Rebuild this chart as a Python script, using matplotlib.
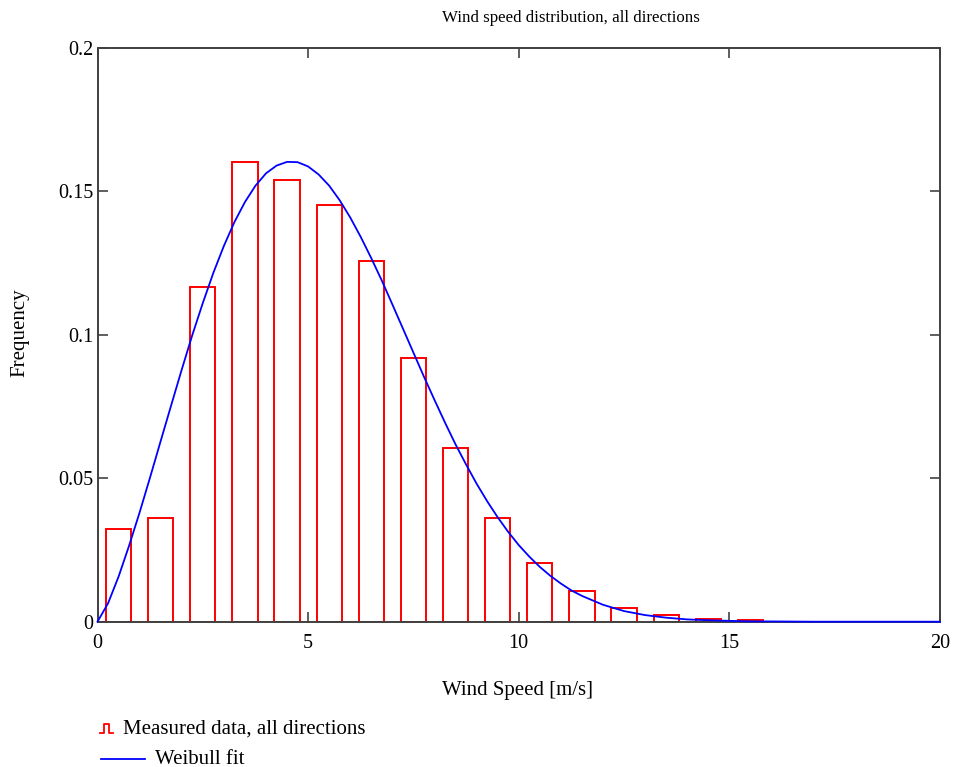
import numpy as np
import matplotlib
matplotlib.use('Agg')
import matplotlib.pyplot as plt
from matplotlib.lines import Line2D

plt.rcParams['font.family'] = ['Liberation Serif', 'DejaVu Serif']

# --- measured histogram (bin start, relative frequency) ---
bin_start = [0, 1, 2, 3, 4, 5, 6, 7, 8, 9, 10, 11, 12, 13, 14, 15]
freq = [0.0323, 0.0361, 0.1167, 0.1602, 0.1539, 0.1451, 0.1258, 0.0920,
        0.0606, 0.0362, 0.0206, 0.0106, 0.0048, 0.0023, 0.0010, 0.0005]

# --- Weibull fit curve ---
fit_x = [0, 0.25, 0.5, 0.75, 1, 1.25, 1.5, 1.75, 2, 2.25, 2.5, 2.75, 3,
         3.25, 3.5, 3.75, 4, 4.25, 4.5, 4.75, 5, 5.25, 5.5, 5.75, 6, 6.25,
         6.5, 6.75, 7, 7.25, 7.5, 7.75, 8, 8.25, 8.5, 8.75, 9, 9.25, 9.5,
         9.75, 10, 10.25, 10.5, 10.75, 11, 11.25, 11.5, 12, 12.5, 13, 13.5,
         14, 14.5, 15, 15.5, 16, 17, 18, 19, 20]
fit_y = [0.0, 0.0064, 0.0157, 0.0265, 0.0381, 0.0504, 0.0630, 0.0755,
         0.0879, 0.0999, 0.1111, 0.1216, 0.1310, 0.1393, 0.1463, 0.1520,
         0.1563, 0.1590, 0.1603, 0.1602, 0.1587, 0.1559, 0.1520, 0.1469,
         0.1409, 0.1341, 0.1267, 0.1189, 0.1106, 0.1022, 0.0938, 0.0854,
         0.0773, 0.0694, 0.0618, 0.0548, 0.0481, 0.0420, 0.0364, 0.0313,
         0.0267, 0.0227, 0.0191, 0.0160, 0.0133, 0.0109, 0.0090, 0.0059,
         0.0037, 0.0023, 0.0014, 0.0008, 0.0005, 0.0003, 0.0001, 0.0001,
         0.0, 0.0, 0.0, 0.0]

x_ticks = [0, 5, 10, 15, 20]
y_ticks = [0, 0.05, 0.1, 0.15, 0.2]
y_labels = ['0', '0.05', '0.1', '0.15', '0.2']

W, H = 958, 767
fig = plt.figure(figsize=(W / 100, H / 100), dpi=100)
ax = fig.add_axes([97.5 / W, 1 - 621.7 / H, (940 - 97.5) / W, (621.7 - 48) / H])

bar_w = 0.6
ax.bar(np.array(bin_start) + 0.5, freq, width=bar_w, fill=False,
       edgecolor='#ff0000', linewidth=1.4, zorder=2)
ax.plot(fit_x, fit_y, color='#0000ff', linewidth=1.3, zorder=3, clip_on=False)

ax.set_xlim(0, 20)
ax.set_ylim(0, 0.2)
ax.set_xticks(x_ticks)
ax.set_yticks(y_ticks)
ax.set_yticklabels(y_labels)
ax.tick_params(direction='in', length=7, width=1.1, color='#333333',
               labelsize=14.5, top=True, right=True)
ax.tick_params(axis='x', pad=9)
ax.tick_params(axis='y', pad=3)
for sp in ax.spines.values():
    sp.set_color('#404040')
    sp.set_linewidth(1.4)

fig.text(570.5 / W, 1 - 18 / H, 'Wind speed distribution, all directions',
         ha='center', va='center', fontsize=12.2)
fig.text(517 / W, 1 - 690 / H, 'Wind Speed [m/s]', ha='center', va='center',
         fontsize=15)
fig.text(20 / W, 1 - 333 / H, 'Frequency', ha='center', va='center',
         rotation=90, fontsize=15)

# legend below the plot, Mathcad style
def px(x, y):
    return x / W, 1 - y / H

bx, by = zip(*[px(100, 733), px(104, 733), px(104, 724), px(109, 724),
               px(109, 733), px(113, 733)])
fig.add_artist(Line2D(bx, by, color='#ff0000', linewidth=1.3))
fig.text(123 / W, 1 - 729 / H, 'Measured data, all directions',
         ha='left', va='center', fontsize=15)
lx, ly = zip(*[px(101, 759), px(145, 759)])
fig.add_artist(Line2D(lx, ly, color='#0000ff', linewidth=1.3))
fig.text(155 / W, 1 - 759 / H, 'Weibull fit', ha='left', va='center',
         fontsize=15)

fig.savefig('out.png', dpi=100)
